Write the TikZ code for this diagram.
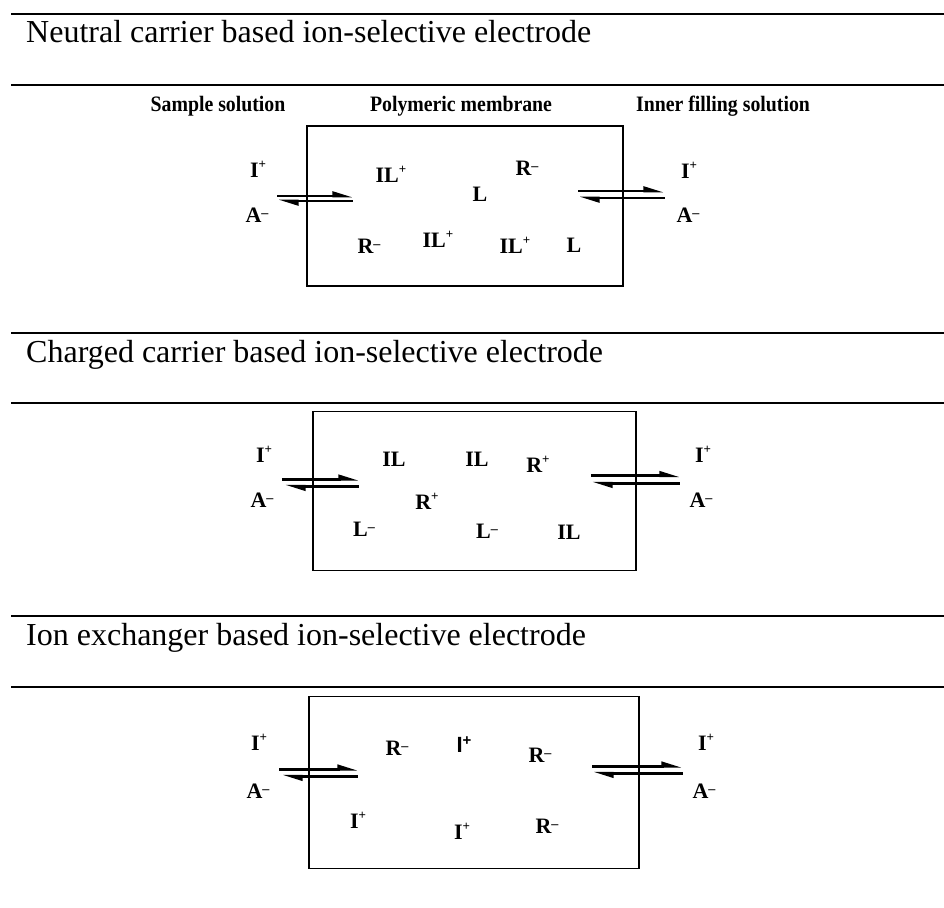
\documentclass[tikz,border=0pt]{standalone}
\usepackage{fontspec}
\setmainfont{Liberation Serif}
\setsansfont{Liberation Sans}
\newfontfamily\headfam[FakeStretch=0.9]{Liberation Serif Bold}
\usepackage{tikz}
\usetikzlibrary{arrows.meta,positioning,calc}
\newcommand{\titlefont}{\fontsize{32}{36}\selectfont}
\newcommand{\ionfont}{\bfseries\fontsize{22}{26}\selectfont}
\newcommand{\headfont}{\headfam\fontsize{22}{26}\selectfont}
\newcommand{\ionp}{\raisebox{9pt}{\fontsize{13}{13}\selectfont +}}
\newcommand{\ionm}{\raisebox{4.5pt}{\fontsize{14}{14}\selectfont –}}
\newcommand{\sfion}{{\sffamily\bfseries I\raisebox{7pt}{\fontsize{15}{15}\selectfont +}}}

\begin{document}
\begin{tikzpicture}[x=1pt,y=-1pt,
  rule/.style={line width=2pt},
  membrane/.style={draw,line width=1.3pt,inner sep=0pt,outer sep=0pt},
  ion/.style={font=\ionfont,inner sep=0pt,anchor=base},
  head/.style={font=\headfont,inner sep=0pt,anchor=base},
  title/.style={font=\titlefont,inner sep=0pt,anchor=base west},
  fwd/.style={line width=2.6pt,-{Triangle[harpoon,length=16pt,width=9pt]}},
  bwd/.style={line width=2.6pt,{Triangle[harpoon,length=16pt,width=9pt]}-},
]
\useasboundingbox (0,0) rectangle (944,907);

% section rules and titles
\draw[rule] (11,14) -- (944,14);
\draw[rule] (11,85) -- (944,85);
\draw[rule] (11,333) -- (944,333);
\draw[rule] (11,403) -- (944,403);
\draw[rule] (11,616) -- (944,616);
\draw[rule] (11,687) -- (944,687);
\node[title] (t1) at (26,43) {Neutral carrier based ion-selective electrode};
\node[title] (t2) at (26,362) {Charged carrier based ion-selective electrode};
\node[title] (t3) at (26,645) {Ion exchanger based ion-selective electrode};

% neutral carrier
\node[head] (sample) at (218,111) {Sample solution};
\node[head] (poly) at (461,111) {Polymeric membrane};
\node[head] (inner) at (723,111) {Inner filling solution};
\node[membrane,minimum width=316pt,minimum height=160pt] (mem1) at (465,206) {};
\node[ion] (i1l) at (258,177) {I\ionp};
\node[ion] (a1l) at (257,222) {A\ionm};
\node[ion] (i1r) at (689,178) {I\ionp};
\node[ion] (a1r) at (688,222) {A\ionm};
\node[ion] (il1a) at (391,182) {IL\ionp};
\node[ion] (l1a) at (480,201) {L};
\node[ion] (r1a) at (527,175) {R\ionm};
\node[ion] (r1b) at (369,253) {R\ionm};
\node[ion] (il1b) at (438,247) {IL\ionp};
\node[ion] (il1c) at (515,253) {IL\ionp};
\node[ion] (l1b) at (574,252) {L};
\draw[fwd] ([shift={(-30,-10)}]mem1.west) -- ([shift={(46,-10)}]mem1.west);
\draw[bwd] ([shift={(-29,-5)}]mem1.west) -- ([shift={(46,-5)}]mem1.west);
\draw[fwd] ([shift={(-45,-15)}]mem1.east) -- ([shift={(41,-15)}]mem1.east);
\draw[bwd] ([shift={(-44,-8)}]mem1.east) -- ([shift={(42,-8)}]mem1.east);

% charged carrier
\node[membrane,minimum width=323pt,minimum height=159pt] (mem2) at (474.4,491.2) {};
\node[ion] (i2l) at (264,462) {I\ionp};
\node[ion] (a2l) at (262,507) {A\ionm};
\node[ion] (i2r) at (703,462) {I\ionp};
\node[ion] (a2r) at (701,507) {A\ionm};
\node[ion] (il2a) at (394,466) {IL};
\node[ion] (il2b) at (477,466) {IL};
\node[ion] (r2a) at (538,472) {R\ionp};
\node[ion] (r2b) at (427,509) {R\ionp};
\node[ion] (l2a) at (364,536) {L\ionm};
\node[ion] (l2b) at (487,538) {L\ionm};
\node[ion] (il2c) at (569,539) {IL};
\draw[fwd] ([shift={(-31,-12)}]mem2.west) -- ([shift={(46,-12)}]mem2.west);
\draw[bwd] ([shift={(-28,-5)}]mem2.west) -- ([shift={(46,-5)}]mem2.west);
\draw[fwd] ([shift={(-45,-15.5)}]mem2.east) -- ([shift={(44,-15.5)}]mem2.east);
\draw[bwd] ([shift={(-44,-8)}]mem2.east) -- ([shift={(44,-8)}]mem2.east);

% ion exchanger
\node[membrane,minimum width=330pt,minimum height=172pt] (mem3) at (474,782.2) {};
\node[ion] (i3l) at (259,750) {I\ionp};
\node[ion] (a3l) at (258,798) {A\ionm};
\node[ion] (i3r) at (706,750) {I\ionp};
\node[ion] (a3r) at (704,798) {A\ionm};
\node[ion] (r3a) at (397,755) {R\ionm};
\node[ion] (i3a) at (464,752) {\sfion};
\node[ion] (r3b) at (540,762) {R\ionm};
\node[ion] (i3b) at (358,828) {I\ionp};
\node[ion] (i3c) at (462,839) {I\ionp};
\node[ion] (r3c) at (547,833) {R\ionm};
\draw[fwd] ([shift={(-30,-13)}]mem3.west) -- ([shift={(49,-13)}]mem3.west);
\draw[bwd] ([shift={(-27,-6)}]mem3.west) -- ([shift={(49,-6)}]mem3.west);
\draw[fwd] ([shift={(-47,-16)}]mem3.east) -- ([shift={(43,-16)}]mem3.east);
\draw[bwd] ([shift={(-46,-9)}]mem3.east) -- ([shift={(44,-9)}]mem3.east);
\end{tikzpicture}
\end{document}
